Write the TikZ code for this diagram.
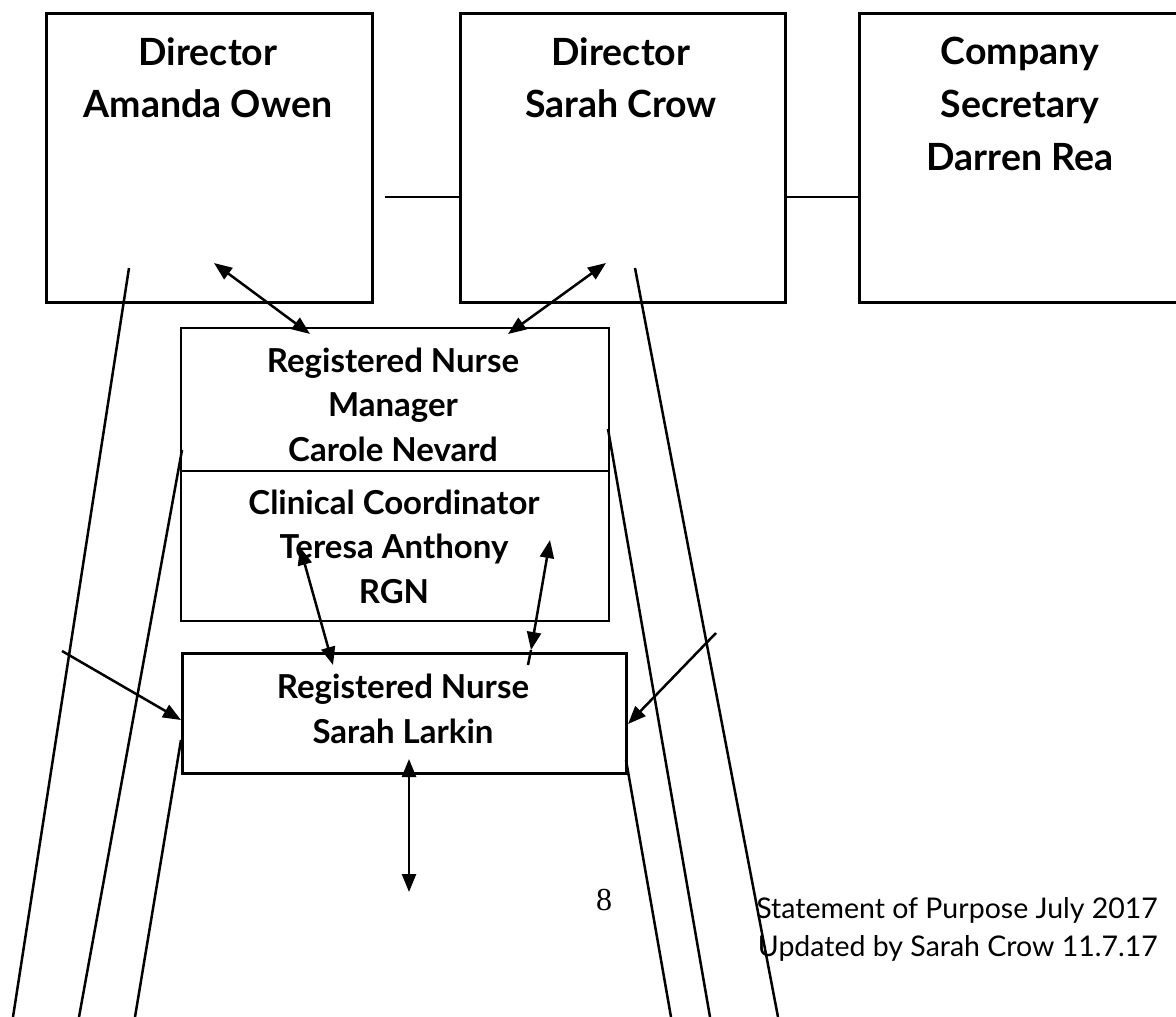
\documentclass[tikz,border=0pt]{standalone}
\usepackage{fontspec}
\setmainfont{Lato}
\newfontfamily\pagenumfont{Liberation Serif}
\usetikzlibrary{arrows.meta}

\tikzset{
  heavybox/.style={draw, line width=3pt, inner sep=0pt, anchor=north west},
  lightbox/.style={draw, line width=1.5pt, inner sep=0pt, anchor=north west},
  bigtext/.style={font=\bfseries\fontsize{37.5}{44}\selectfont, anchor=base, inner sep=0pt},
  midtext/.style={font=\bfseries\fontsize{33}{38}\selectfont, anchor=base, inner sep=0pt},
  foottext/.style={font=\fontsize{28.5}{33}\selectfont, anchor=base east, inner sep=0pt},
  rail/.style={line width=2.5pt},
  tie/.style={line width=1.5pt},
  tip/.tip={Triangle[length=18pt,width=14pt]},
  onearrow/.style={line width=2.5pt, -tip},
  twoarrow/.style={line width=2.5pt, tip-tip},
}

\begin{document}
\begin{tikzpicture}[x=1pt, y=-1pt]
\useasboundingbox (0,0) rectangle (1176,1017);
\clip (0,0) rectangle (1176,1017);

% --- top row: directors and secretary
\node[heavybox, minimum width=326pt, minimum height=289pt] (owen) at (45,12) {};
\node[heavybox, minimum width=325pt, minimum height=289pt] (crow) at (459,12) {};
\node[heavybox, minimum width=326pt, minimum height=289pt] (rea) at (858,12) {};

\node[bigtext] (owen1) at (208,65) {Director};
\node[bigtext] (owen2) at (208,117) {Amanda Owen};
\node[bigtext] (crow1) at (621,65) {Director};
\node[bigtext] (crow2) at (621,117) {Sarah Crow};
\node[bigtext] (rea1) at (1020,64) {Company};
\node[bigtext] (rea2) at (1020,117) {Secretary};
\node[bigtext] (rea3) at (1020,170) {Darren Rea};

% ties between the top boxes
\coordinate (tieA) at (385,197);
\draw[tie] (tieA) -- (tieA -| crow.west);
\draw[tie] (crow.east |- tieA) -- (rea.west |- tieA);

% --- manager and coordinator
\node[lightbox, minimum width=428pt, minimum height=143pt] (nevard) at (180,327) {};
\node[lightbox, minimum width=428pt, minimum height=150pt] (anthony) at (180,470) {};
\node[midtext] (nev1) at (393,372) {Registered Nurse};
\node[midtext] (nev2) at (393,416) {Manager};
\node[midtext] (nev3) at (393,461) {Carole Nevard};
\node[midtext] (ant1) at (394,514) {Clinical Coordinator};
\node[midtext] (ant2) at (394,558) {Teresa Anthony};
\node[midtext] (ant3) at (394,603) {RGN};

% --- registered nurse
\node[heavybox, minimum width=444pt, minimum height=120pt] (larkin) at (181,652) {};
\node[midtext] (lar1) at (403,698) {Registered Nurse};
\node[midtext] (lar2) at (403,743) {Sarah Larkin};

% --- arrows
\coordinate (a1s) at (214,263);
\coordinate (a1e) at (310,334);
\draw[twoarrow] (a1s) -- (a1e);
\coordinate (a2s) at (606,263);
\coordinate (a2e) at (508,334);
\draw[twoarrow] (a2s) -- (a2e);
\coordinate (a3s) at (300,547);
\coordinate (a3e) at (333,665);
\draw[twoarrow] (a3s) -- (a3e);
\coordinate (a4s) at (550,540);
\coordinate (a4e) at (531,650);
\coordinate (a4f) at (528,665);
\draw[twoarrow] (a4s) -- (a4e);
\draw[rail] (a4e) -- (a4f);
\coordinate (a5s) at (62,651);
\draw[onearrow] (a5s) -- (larkin.west |- 0,720);
\coordinate (a6s) at (716,633);
\draw[onearrow] (a6s) -- (larkin.east |- 0,724);
\coordinate (a7s) at (409,759);
\coordinate (a7e) at (409,892);
\draw[twoarrow] (a7s) -- (a7e);

% --- long slanted rails
\coordinate (l1s) at (129,268);  \coordinate (l1e) at (13,1017);
\coordinate (l2s) at (182,450);  \coordinate (l2e) at (79,1017);
\coordinate (l3s) at (181,740);  \coordinate (l3e) at (135,1017);
\coordinate (r1s) at (635,268);  \coordinate (r1e) at (778,1017);
\coordinate (r2s) at (608,429);  \coordinate (r2e) at (710,1017);
\coordinate (r3s) at (626,760);  \coordinate (r3e) at (671,1017);
\draw[rail] (l1s) -- (l1e);
\draw[rail] (l2s) -- (l2e);
\draw[rail] (l3s) -- (l3e);
\draw[rail] (r1s) -- (r1e);
\draw[rail] (r2s) -- (r2e);
\draw[rail] (r3s) -- (r3e);

% --- footer
\node[font=\pagenumfont\fontsize{32}{36}\selectfont, anchor=base, inner sep=0pt] (pagenum) at (604,910) {8};
\node[foottext] (sop) at (1158,918) {Statement of Purpose July 2017};
\node[foottext] (upd) at (1158,956) {Updated by Sarah Crow 11.7.17};
\end{tikzpicture}
\end{document}
